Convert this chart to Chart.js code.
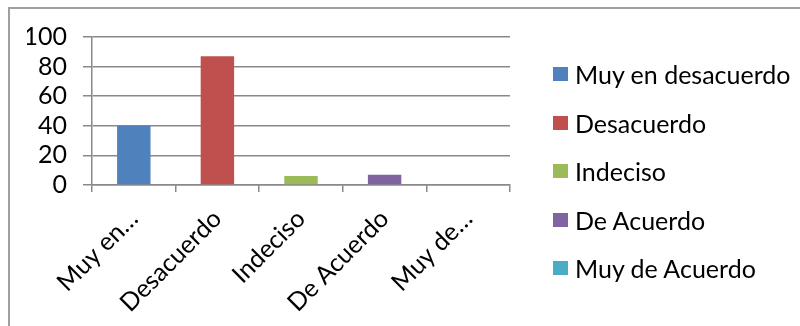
<!DOCTYPE html>
<html>
<head>
<meta charset="utf-8">
<script src="https://cdn.jsdelivr.net/npm/chart.js@4.4.1/dist/chart.umd.min.js"></script>
<style>
  body { margin: 0; background: #fff; overflow: hidden; }
  #wrap { position: absolute; left: 0; top: 0; width: 800px; height: 326px; }
  #frame { position: absolute; left: 8px; top: 7px; width: 820px; height: 340px; border-left: 2px solid #a0a0a0; border-top: 2px solid #a0a0a0; }
  #legend { position: absolute; left: 553px; top: 49.75px; font-family: Lato, sans-serif; font-size: 25px; color: #000; }
  .item { display: flex; align-items: center; height: 48.5px; }
  .box { width: 15px; height: 14px; margin-right: 7px; }
</style>
</head>
<body>
<div id="wrap">
  <div id="frame"></div>
  <canvas id="myChart"></canvas>
  <div id="legend"></div>
</div>
<script>
let categories = ["Muy en desacuerdo", "Desacuerdo", "Indeciso", "De Acuerdo", "Muy de Acuerdo"]
let tickLabels = ["Muy en…", "Desacuerdo", "Indeciso", "De Acuerdo", "Muy de…"]
let values = [40, 87, 6, 7, 0]
let colors = ["#4F81BD", "#C0504D", "#9BBB59", "#8064A2", "#4BACC6"]
let yTicks = [0, 20, 40, 60, 80, 100]

let gridColor = '#898989'
let font = { family: 'Lato', size: 25 }

let ctx = document.getElementById('myChart');
new Chart(ctx, {
  type: 'bar',
  data: {
    labels: tickLabels,
    datasets: [{
      label: 'Respuestas',
      data: values,
      backgroundColor: colors,
      borderWidth: 0,
      barPercentage: 0.4,
      categoryPercentage: 1
    }]
  },
  options: {
    responsive: true,
    maintainAspectRatio: false,
    animation: false,
    layout: { padding: { left: 27, top: 37, right: 290, bottom: 0 } },
    plugins: {
      legend: { display: false },
      tooltip: { enabled: false }
    },
    scales: {
      x: {
        // fixed height so the rotated labels are not clipped
        afterFit: (scale) => { scale.height = 141 },
        border: { color: gridColor, width: 1.5 },
        grid: { offset: true, drawOnChartArea: false, color: gridColor, lineWidth: 1.5, tickLength: 7 },
        ticks: { color: '#000', font: font, minRotation: 45, maxRotation: 45, autoSkip: false, padding: 12 }
      },
      y: {
        min: 0,
        max: 100,
        afterFit: (scale) => { scale.width = 65 },
        afterBuildTicks: (scale) => { scale.ticks = yTicks.map((v) => ({ value: v })) },
        border: { color: gridColor, width: 1.5 },
        grid: { color: gridColor, lineWidth: 1.5, tickLength: 9 },
        ticks: { color: '#000', font: font, padding: 16, autoSkip: false }
      }
    }
  }
})

// legend list built from the same categories and colours
let legend = document.getElementById('legend')
for (let i = 0; i < categories.length; i++) {
  let row = document.createElement('div')
  row.className = 'item'
  let box = document.createElement('span')
  box.className = 'box'
  box.style.background = colors[i]
  let text = document.createElement('span')
  text.textContent = categories[i]
  row.appendChild(box)
  row.appendChild(text)
  legend.appendChild(row)
}
</script>
</body>
</html>
